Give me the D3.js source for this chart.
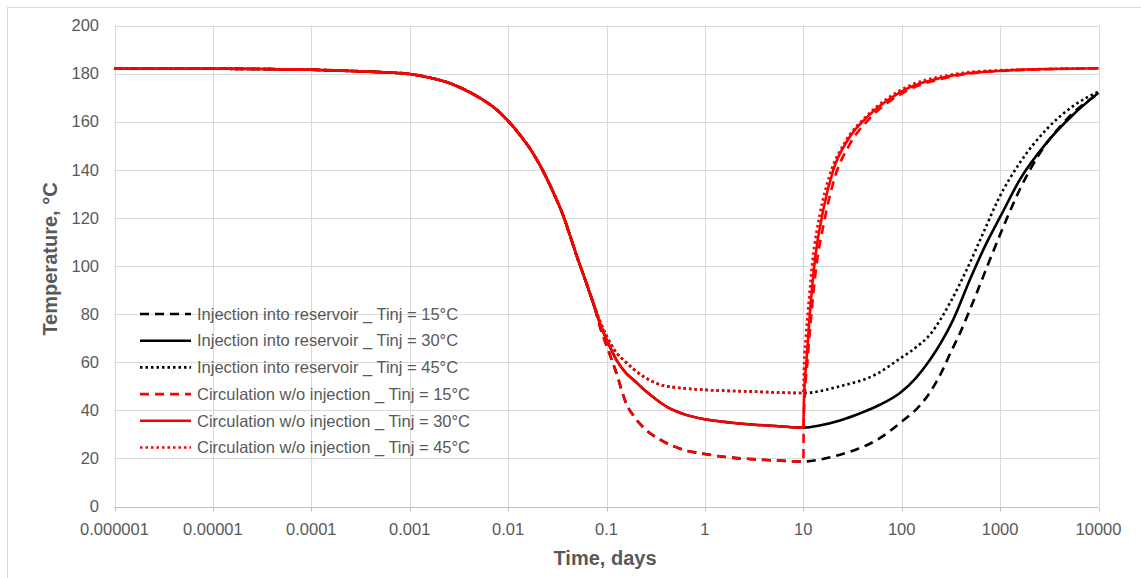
<!DOCTYPE html>
<html>
<head>
<meta charset="utf-8">
<title>Temperature vs time</title>
<script src="https://d3js.org/d3.v7.min.js"></script>
<style>
	body { margin: 0; padding: 0; background: #fff; overflow: hidden; }
	text { font-family: "Liberation Sans", Arial, sans-serif; fill: #595959; }
	.title { font-weight: bold; font-size: 20px; }
</style>
</head>
<body>
<script>
	// ---- data (days, deg C) ----
	// shared early part, all six curves lie on top of each other
	var commonDays = [1e-6, 1e-5, 3e-5, 1e-4, 3e-4, 5e-4, 0.001, 0.0016, 0.0024, 0.0035, 0.0052, 0.0074, 0.01, 0.0132, 0.0169, 0.021, 0.025, 0.030, 0.0355, 0.0427, 0.05, 0.0617, 0.0741];
	var commonTemp = [182, 182, 181.9, 181.6, 181, 180.6, 179.8, 178.3, 176.4, 173.6, 169.8, 165.5, 160.3, 154.5, 148.5, 142, 136, 129, 122, 112.5, 104, 93.5, 84];

	// up to 10 days (same for injection and circulation)
	var pre15Days = [0.087, 0.1, 0.126, 0.158, 0.19, 0.25, 0.355, 0.56, 1, 1.8, 3, 5.6, 10];
	var pre15Temp = [74, 67, 55.5, 43, 37.5, 32, 27.7, 24, 21.8, 20.4, 19.7, 19.1, 18.7];
	var pre30Days = [0.087, 0.1, 0.126, 0.158, 0.19, 0.25, 0.32, 0.42, 0.63, 1, 1.8, 3, 5.6, 10];
	var pre30Temp = [75.5, 69.5, 61, 55.5, 52.5, 48, 44.5, 41.2, 38.2, 36.3, 34.9, 34.1, 33.4, 32.8];
	var pre45Days = [0.087, 0.1, 0.126, 0.158, 0.19, 0.25, 0.355, 0.56, 1, 3, 10];
	var pre45Temp = [76.5, 71, 64, 60, 57, 53.5, 50.6, 49.3, 48.5, 47.8, 47.2];

	// injection into reservoir, after 10 days
	var inj15Days = [15, 23.6, 36, 55, 96, 153, 194, 255, 310, 392, 578, 789, 1122, 1593, 2542, 4753, 10000];
	var inj15Temp = [19.6, 21.5, 24, 27.5, 34.7, 42, 47.5, 56, 63.5, 72.2, 88.8, 102.7, 118, 132, 147, 161, 171.7];
	var inj30Days = [15, 23.6, 38, 60, 96, 140, 194, 250, 334, 494, 731, 1014, 1593, 2977, 5550, 10000];
	var inj30Temp = [33.8, 35.8, 38.8, 42.3, 47.2, 53.5, 61, 68, 77.7, 94.4, 109.7, 120.8, 136, 151.3, 163, 172];
	var inj45Days = [23.6, 55, 96, 140, 194, 310, 458, 675, 959, 1593, 2977, 5550, 10000];
	var inj45Temp = [50, 55, 61.5, 66.2, 71.5, 84.7, 98.5, 113.8, 127.7, 143, 156.9, 166.6, 172.5];

	// circulation without injection, after 10 days
	var circ15Days = [10.1, 10.4, 10.9, 11.9, 13.4, 16.4, 20.6, 29.5, 47, 98, 310, 1000, 10000];
	var circ15Temp = [35, 48, 58, 77, 98, 119, 136, 150.5, 161.2, 171.5, 178.6, 181.1, 182.2];
	var circ30Days = [10.16, 10.4, 10.83, 11.7, 13.15, 15.97, 20.2, 28.6, 45.8, 96, 310, 1000, 3162, 10000];
	var circ30Temp = [45, 53, 62, 81, 102.7, 123.5, 140, 152.7, 162.4, 172.2, 179, 181.2, 181.9, 182.2];
	var circ45Days = [10.2, 10.6, 11.3, 12.4, 14.8, 18.6, 26.5, 43, 96, 310, 1000, 10000];
	var circ45Temp = [60, 70, 84, 102, 122, 138, 151.5, 162, 173, 179.5, 181.4, 182.2];

	var seriesNames = [
		"Injection into reservoir _ Tinj = 15°C",
		"Injection into reservoir _ Tinj = 30°C",
		"Injection into reservoir _ Tinj = 45°C",
		"Circulation w/o injection _ Tinj = 15°C",
		"Circulation w/o injection _ Tinj = 30°C",
		"Circulation w/o injection _ Tinj = 45°C"
	];
	var xTickLabels = ["0.000001", "0.00001", "0.0001", "0.001", "0.01", "0.1", "1", "10", "100", "1000", "10000"];
	var yTicks = [0, 20, 40, 60, 80, 100, 120, 140, 160, 180, 200];

	function pts(daysArr, tempArr) {
		return daysArr.map(function(d, i) { return { t: d, v: tempArr[i] }; });
	}
	function build(pre, preT, post, postT) {
		return pts(commonDays, commonTemp).concat(pts(pre, preT), pts(post, postT));
	}

	var series = [
		{ name: seriesNames[0], color: "#000", dash: "9,6", pts: build(pre15Days, pre15Temp, inj15Days, inj15Temp) },
		{ name: seriesNames[1], color: "#000", dash: null, pts: build(pre30Days, pre30Temp, inj30Days, inj30Temp) },
		{ name: seriesNames[2], color: "#000", dash: "2.5,3", pts: build(pre45Days, pre45Temp, inj45Days, inj45Temp) },
		{ name: seriesNames[3], color: "#ff0000", dash: "9,6", pts: build(pre15Days, pre15Temp, circ15Days, circ15Temp) },
		{ name: seriesNames[4], color: "#ff0000", dash: null, pts: build(pre30Days, pre30Temp, circ30Days, circ30Temp) },
		{ name: seriesNames[5], color: "#ff0000", dash: "2.5,3", pts: build(pre45Days, pre45Temp, circ45Days, circ45Temp) }
	];

	var width = 1141, height = 578;
	var svg = d3.select("body").append("svg")
		.attr("width", width)
		.attr("height", height);

	// chart area border
	svg.append("rect")
		.attr("x", 7.5).attr("y", 7.5)
		.attr("width", 1160).attr("height", 600)
		.attr("fill", "none").attr("stroke", "#d9d9d9");

	var x = d3.scaleLog().domain([1e-6, 1e4]).range([114.5, 1098.5]);
	var y = d3.scaleLinear().domain([0, 200]).range([506.5, 25.5]);

	// grid
	var decades = d3.range(-6, 5).map(function(k) { return Math.pow(10, k); });
	svg.append("g").selectAll("line").data(yTicks.slice(1)).enter().append("line")
		.attr("x1", x.range()[0]).attr("x2", x.range()[1])
		.attr("y1", function(d) { return Math.round(y(d)) + 0.5; })
		.attr("y2", function(d) { return Math.round(y(d)) + 0.5; })
		.attr("stroke", "#d9d9d9");
	svg.append("g").selectAll("line").data(decades).enter().append("line")
		.attr("x1", function(d) { return Math.round(x(d)) + 0.5; })
		.attr("x2", function(d) { return Math.round(x(d)) + 0.5; })
		.attr("y1", y(200)).attr("y2", y(0))
		.attr("stroke", "#d9d9d9");

	// x axis line + minor ticks
	var axisY = Math.round(y(0)) + 0.5;
	svg.append("line")
		.attr("x1", x.range()[0]).attr("x2", x.range()[1])
		.attr("y1", axisY).attr("y2", axisY)
		.attr("stroke", "#bfbfbf");
	svg.append("g").selectAll("line").data(x.ticks()).enter().append("line")
		.attr("x1", function(d) { return Math.round(x(d)) + 0.5; })
		.attr("x2", function(d) { return Math.round(x(d)) + 0.5; })
		.attr("y1", axisY).attr("y2", axisY + 4)
		.attr("stroke", "#bfbfbf");

	// tick labels
	svg.append("g").selectAll("text").data(decades).enter().append("text")
		.attr("x", function(d) { return x(d); })
		.attr("y", 535)
		.attr("text-anchor", "middle")
		.style("font-size", "16.5px")
		.text(function(d, i) { return xTickLabels[i]; });
	svg.append("g").selectAll("text").data(yTicks).enter().append("text")
		.attr("x", 99)
		.attr("y", function(d) { return y(d); })
		.attr("dy", "0.35em")
		.attr("text-anchor", "end")
		.style("font-size", "16.5px")
		.text(function(d) { return d; });

	// axis titles
	svg.append("text").attr("class", "title")
		.attr("x", 605).attr("y", 565)
		.attr("text-anchor", "middle")
		.text("Time, days");
	svg.append("text").attr("class", "title")
		.attr("transform", "translate(57,259) rotate(-90)")
		.attr("text-anchor", "middle")
		.text("Temperature, °C");

	// curves
	var line = d3.line()
		.x(function(d) { return x(d.t); })
		.y(function(d) { return y(d.v); })
		.curve(d3.curveMonotoneX);

	svg.append("g").selectAll("path").data(series).enter().append("path")
		.attr("d", function(d) { return line(d.pts); })
		.attr("fill", "none")
		.attr("stroke", function(d) { return d.color; })
		.attr("stroke-width", 2.6)
		.attr("stroke-dasharray", function(d) { return d.dash; });

	// legend
	var leg = svg.append("g").selectAll("g").data(series).enter().append("g")
		.attr("transform", function(d, i) { return "translate(140," + (314 + i * 26.7) + ")"; });
	leg.append("line")
		.attr("x1", 0).attr("x2", 51)
		.attr("stroke", function(d) { return d.color; })
		.attr("stroke-width", 2.6)
		.attr("stroke-dasharray", function(d) { return d.dash; });
	leg.append("text")
		.attr("x", 57)
		.attr("dy", "0.35em")
		.style("font-size", "16.5px")
		.text(function(d) { return d.name; });
</script>
</body>
</html>
